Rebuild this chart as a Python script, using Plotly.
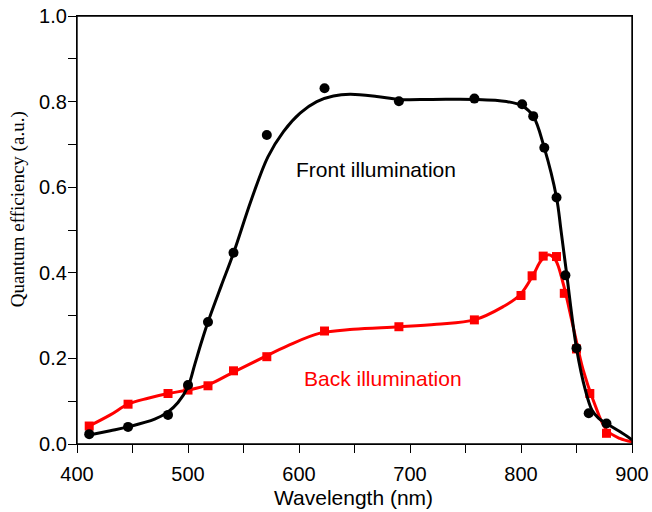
import plotly.graph_objects as go

# Measured data points
front_wl = [411, 446, 482, 500, 518, 541, 571, 623, 690, 758, 801, 811, 821, 832, 840, 850, 861, 877]
front_qe = [0.023, 0.040, 0.068, 0.138, 0.285, 0.447, 0.722, 0.831, 0.801, 0.807, 0.794, 0.766, 0.692, 0.576, 0.394, 0.224, 0.072, 0.048]

back_wl = [411, 446, 482, 500, 518, 541, 571, 623, 690, 758, 800, 810, 820, 832, 839, 850, 862, 877]
back_qe = [0.042, 0.093, 0.118, 0.126, 0.136, 0.171, 0.204, 0.264, 0.274, 0.290, 0.347, 0.393, 0.439, 0.438, 0.352, 0.222, 0.118, 0.025]

# Fitted curves
front_fit_wl = [411, 430, 446, 470, 482, 491, 500, 506, 512, 518, 530, 541, 557, 572, 586, 601, 616, 631, 646,
                670, 690, 720, 758, 787, 801, 811, 821, 832, 836, 841, 850, 858, 864, 870, 877, 889, 900]
front_fit_qe = [0.021, 0.031, 0.040, 0.058, 0.075, 0.097, 0.134, 0.185, 0.237, 0.285, 0.370, 0.446, 0.570, 0.671, 0.730,
                0.773, 0.800, 0.813, 0.817, 0.812, 0.805, 0.805, 0.805, 0.800, 0.790, 0.766, 0.692, 0.576, 0.500, 0.400,
                0.224, 0.126, 0.079, 0.060, 0.048, 0.029, 0.010]

back_fit_wl = [411, 430, 446, 464, 482, 500, 518, 541, 566, 590, 619, 649, 690, 724, 758, 784, 799, 811, 818,
               825, 831, 838, 847, 856, 865, 877, 889, 900]
back_fit_qe = [0.042, 0.068, 0.093, 0.107, 0.118, 0.126, 0.138, 0.168, 0.200, 0.230, 0.259, 0.268, 0.274, 0.280,
               0.290, 0.321, 0.348, 0.395, 0.428, 0.442, 0.430, 0.375, 0.274, 0.173, 0.103, 0.033, 0.013, 0.005]

x_ticks = [400, 500, 600, 700, 800, 900]
y_ticks = [0.0, 0.2, 0.4, 0.6, 0.8, 1.0]
y_tick_labels = ["0.0", "0.2", "0.4", "0.6", "0.8", "1.0"]

RED = "#ff0000"
SANS = "Liberation Sans, Arial, Helvetica, sans-serif"
SERIF = "Liberation Serif, Times New Roman, serif"

fig = go.Figure()
fig.add_trace(go.Scatter(x=back_fit_wl, y=back_fit_qe, mode="lines",
                         line=dict(color=RED, width=3, shape="spline", smoothing=1.0),
                         showlegend=False, hoverinfo="skip"))
fig.add_trace(go.Scatter(x=back_wl, y=back_qe, mode="markers",
                         marker=dict(symbol="square", size=9, color=RED),
                         showlegend=False))
fig.add_trace(go.Scatter(x=front_fit_wl, y=front_fit_qe, mode="lines",
                         line=dict(color="black", width=3, shape="spline", smoothing=1.0),
                         showlegend=False, hoverinfo="skip"))
fig.add_trace(go.Scatter(x=front_wl, y=front_qe, mode="markers",
                         marker=dict(symbol="circle", size=10, color="black"),
                         showlegend=False))

fig.add_annotation(x=669, y=0.642, xref="x", yref="y", text="Front illumination", showarrow=False,
                   font=dict(family=SANS, size=21, color="black"))
fig.add_annotation(x=676, y=0.152, xref="x", yref="y", text="Back illumination", showarrow=False,
                   font=dict(family=SANS, size=21, color=RED))
fig.add_annotation(x=-0.106, y=0.549, xref="paper", yref="paper", text="Quantum efficiency (a.u.)",
                   textangle=-90, showarrow=False, xanchor="center", yanchor="middle",
                   font=dict(family=SERIF, size=19, color="black"))
fig.add_annotation(x=0.498, y=-0.126, xref="paper", yref="paper", text="Wavelength (nm)",
                   showarrow=False, xanchor="center", yanchor="middle",
                   font=dict(family=SANS, size=21, color="black"))

# frame of the plot box
fig.add_shape(type="rect", xref="paper", yref="paper", x0=0, x1=1, y0=0, y1=1,
              line=dict(color="black", width=1.4), fillcolor="rgba(0,0,0,0)", layer="above")

fig.update_layout(
    width=652, height=512,
    margin=dict(l=77, r=20, t=16, b=68, autoexpand=False),
    paper_bgcolor="white", plot_bgcolor="white",
    font=dict(family=SANS, size=20, color="black"),
    xaxis=dict(range=[400, 900], tickvals=x_ticks, ticks="outside", ticklen=8, tickwidth=1.2,
               tickcolor="black", showline=True, linecolor="black", linewidth=1.3, mirror=True,
               showgrid=False, zeroline=False, automargin=False, ticklabelstandoff=4,
               ticklabeloverflow="allow",
               minor=dict(dtick=50, ticks="outside", ticklen=8, tickwidth=1.2, tickcolor="black", showgrid=False)),
    yaxis=dict(range=[0, 1.0], tickvals=y_ticks, ticktext=y_tick_labels, ticks="outside", ticklen=8, tickwidth=1.2,
               tickcolor="black", showline=True, linecolor="black", linewidth=1.3, mirror=True,
               showgrid=False, zeroline=False, automargin=False, ticklabelstandoff=-3,
               ticklabeloverflow="allow",
               minor=dict(dtick=0.1, ticks="outside", ticklen=8, tickwidth=1.2, tickcolor="black", showgrid=False)),
)

fig.write_html("out.html", config={"displayModeBar": False},
               post_script="document.body.style.margin='0';document.body.style.overflow='hidden';")
